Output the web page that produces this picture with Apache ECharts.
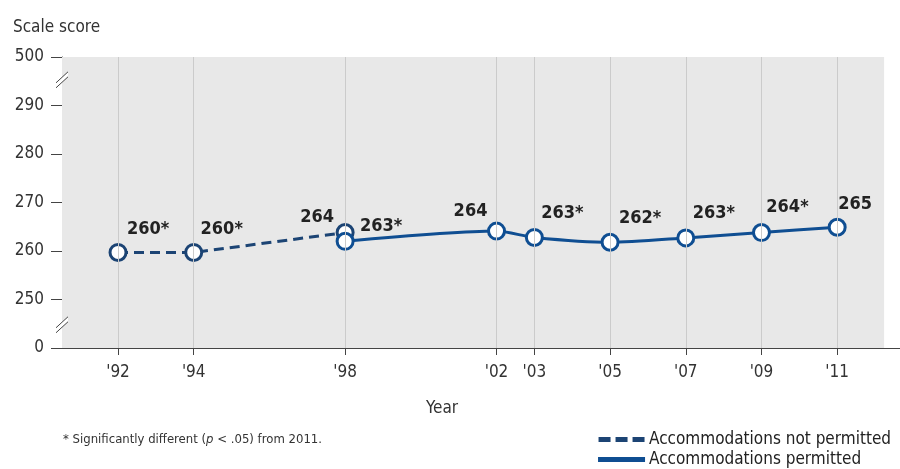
<!DOCTYPE html>
<html><head><meta charset="utf-8">
<script src="https://cdn.jsdelivr.net/npm/echarts@6/dist/echarts.min.js"></script>
<style>html,body{margin:0;padding:0;background:#fff}#c{width:900px;height:469px}</style>
</head><body><div id="c"></div>
<script>
// ---- data ----
const years = [1992, 1994, 1998, 2002, 2003, 2005, 2007, 2009, 2011];
const yearLabels = ["'92", "'94", "'98", "'02", "'03", "'05", "'07", "'09", "'11"];
const notPermittedYears = [1992, 1994, 1998];
const notPermittedValues = [259.7, 259.7, 263.8];
const notPermittedLabels = ["260*", "260*", "264"];
const permittedYears = [1998, 2002, 2003, 2005, 2007, 2009, 2011];
const permittedValues = [262.0, 264.1, 262.8, 261.8, 262.7, 263.8, 264.9];
const permittedLabels = ["263*", "264", "263*", "262*", "263*", "264*", "265"];
// y axis: 240 stands for 0 and 300 stands for 500 (broken scale)
const yTickValues = [240, 250, 260, 270, 280, 290, 300];
const yTickLabels = ["0", "250", "260", "270", "280", "290", "500"];
const seriesNames = ["Accommodations not permitted", "Accommodations permitted"];

// ---- style ----
const FONT = "'Liberation Sans Narrow', 'DejaVu Sans Condensed', 'Roboto Condensed', sans-serif";
const X_MIN = 1990.52, X_MAX = 2012.66, GRAY_END = 2012.24;
const Y_MIN = 240, Y_MAX = 300;
const dashColor = '#1c4474';
const solidColor = '#0f4e92';
// label offsets (style)
const npOffsets = [[30, -23], [28, -23], [-28, -15]];
const pOffsets = [[36, -15], [-26, -20], [28, -24], [30, -24], [28, -25], [26, -25], [18, -23]];

function build(xs, vs, labels, offsets) {
  return xs.map((x, i) => ({
    value: [x, vs[i]],
    label: { show: true, formatter: labels[i], position: 'inside', offset: offsets[i] }
  }));
}

const labelStyle = { fontFamily: FONT, fontSize: 18, fontWeight: 'bold', color: '#222' };

const chart = echarts.init(document.getElementById('c'));
const option = {
  animation: false,
  grid: { left: 62, right: 0, top: 57, bottom: 121 },
  title: [
    { text: 'Scale score', left: 8, top: 14, textStyle: { fontFamily: FONT, fontSize: 17, fontWeight: 'normal', color: '#333' } },
    { text: 'Year', left: 421, top: 395, textStyle: { fontFamily: FONT, fontSize: 17, fontWeight: 'normal', color: '#333' } },
    { text: '{a|* Significantly different (}{i|p}{a| < .05) from 2011.}', left: 58, top: 428,
      textStyle: { fontWeight: 'normal', rich: {
        a: { fontFamily: FONT, fontSize: 13, fontWeight: 'normal', color: '#333' },
        i: { fontFamily: FONT, fontSize: 13, fontWeight: 'normal', color: '#333', fontStyle: 'italic' } } } }
  ],
  legend: {
    orient: 'vertical', right: 4, top: 425, height: 60, itemGap: 1, itemWidth: 45, itemHeight: 3,
    textStyle: { fontFamily: FONT, fontSize: 17, color: '#222', lineHeight: 19 },
    data: [
      { name: seriesNames[0], icon: 'path://M0,0H10V3H0Z M17,0H27V3H17Z M34,0H44V3H34Z', itemStyle: { color: dashColor } },
      { name: seriesNames[1], icon: 'rect', itemStyle: { color: solidColor } }
    ]
  },
  xAxis: {
    type: 'value', min: X_MIN, max: X_MAX,
    axisLine: { show: true, onZero: false, lineStyle: { color: '#444', width: 1 } },
    axisTick: { show: true, customValues: years, length: 7, lineStyle: { color: '#444' } },
    axisLabel: { customValues: years, fontFamily: FONT, fontSize: 17, color: '#333', margin: 16,
      formatter: v => { const i = years.indexOf(Math.round(v)); return i >= 0 ? yearLabels[i] : ''; } },
    splitLine: { show: false }
  },
  yAxis: {
    type: 'value', min: Y_MIN, max: Y_MAX, interval: 10,
    axisLine: { show: true, lineStyle: { color: '#444', width: 1 } },
    axisTick: { show: true, length: 11, lineStyle: { color: '#444' } },
    axisLabel: { fontFamily: FONT, fontSize: 17, color: '#333', margin: 18,
      formatter: v => { const i = yTickValues.indexOf(Math.round(v)); return i >= 0 ? yTickLabels[i] : ''; } },
    splitLine: { show: false }
  },
  series: [
    { type: 'line', data: [], z: 0, silent: true,
      markArea: { silent: true, itemStyle: { color: '#e8e8e8' },
        data: [[{ coord: [X_MIN, Y_MAX] }, { coord: [GRAY_END, Y_MIN] }]] } },
    { type: 'line', data: [], z: 1, silent: true,
      markLine: { silent: true, symbol: 'none', label: { show: false },
        lineStyle: { color: '#cbcbcb', width: 1, type: 'solid' },
        data: years.map(y => ({ xAxis: y })) } },
    { name: seriesNames[0], type: 'line', z: 3,
      data: build(notPermittedYears, notPermittedValues, notPermittedLabels, npOffsets),
      lineStyle: { color: dashColor, width: 3, type: [10, 6] },
      symbol: 'circle', symbolSize: 16,
      itemStyle: { color: '#fff', borderColor: dashColor, borderWidth: 3 },
      label: labelStyle },
    { name: seriesNames[1], type: 'line', z: 4, smooth: 0.25,
      data: build(permittedYears, permittedValues, permittedLabels, pOffsets),
      lineStyle: { color: solidColor, width: 3 },
      symbol: 'circle', symbolSize: 16,
      itemStyle: { color: '#fff', borderColor: solidColor, borderWidth: 3 },
      label: labelStyle }
  ]
};
chart.setOption(option);

// axis break marks
const breakValues = [295.5, 245];
const ax = chart.convertToPixel({ xAxisIndex: 0 }, X_MIN);
const els = [];
breakValues.forEach(v => {
  const y = chart.convertToPixel({ yAxisIndex: 0 }, v);
  els.push({ type: 'polygon', z: 100, shape: { points: [[ax - 6, y + 4], [ax + 6, y - 7], [ax + 6, y - 2], [ax - 6, y + 9]] }, style: { fill: '#fff' } });
  els.push({ type: 'line', z: 101, shape: { x1: ax - 6, y1: y + 4, x2: ax + 6, y2: y - 7 }, style: { stroke: '#444', lineWidth: 1 } });
  els.push({ type: 'line', z: 101, shape: { x1: ax - 6, y1: y + 9, x2: ax + 6, y2: y - 2 }, style: { stroke: '#444', lineWidth: 1 } });
});
chart.setOption({ graphic: els });
</script></body></html>
